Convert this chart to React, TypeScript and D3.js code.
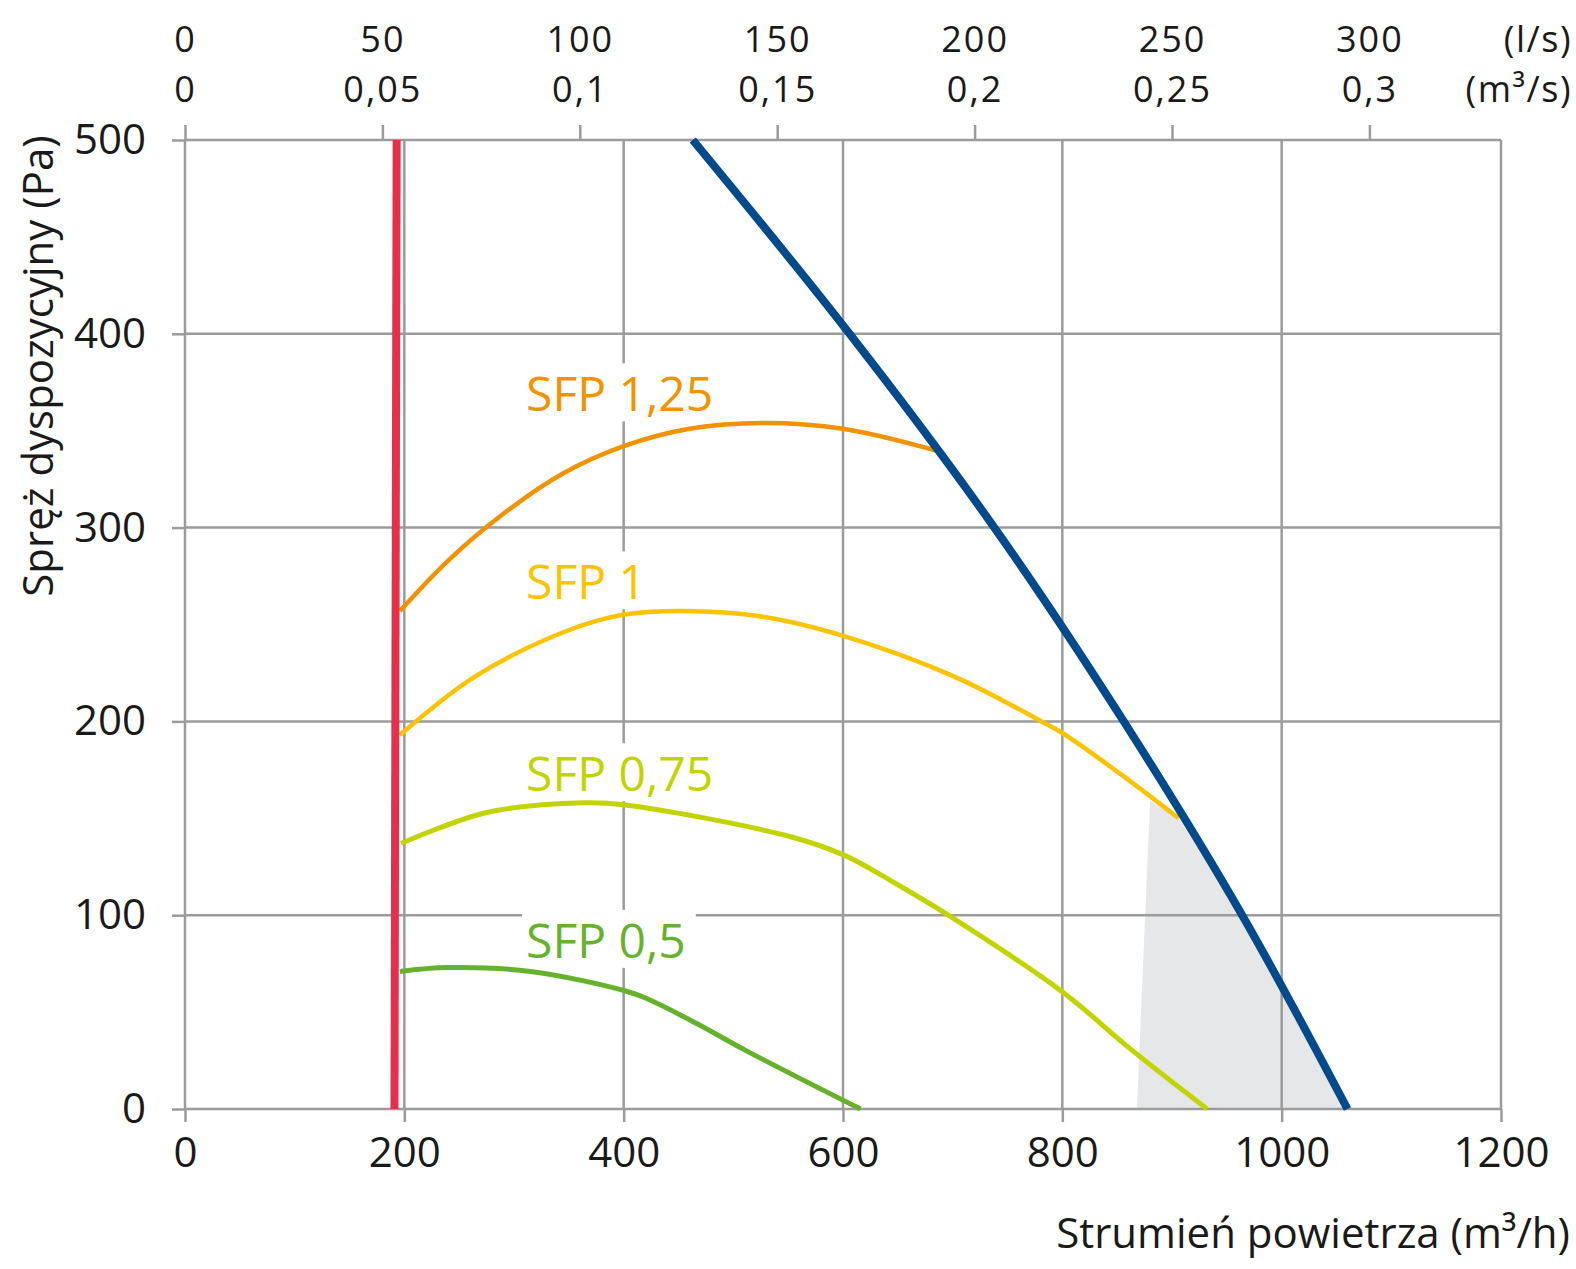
import * as d3 from "d3";
import { useRef, useEffect } from "react";

const width = 1576;
const height = 1269;

// axis ticks
const flowTicks = [0, 200, 400, 600, 800, 1000, 1200];
const pressureTicks = [0, 100, 200, 300, 400, 500];
const litreTicks = [0, 50, 100, 150, 200, 250, 300];
const cubicLabels = ["0", "0,05", "0,1", "0,15", "0,2", "0,25", "0,3"];

// curves as [flow m3/h, pressure Pa]
const minFlowLine = [[191, 0], [193, 500]];
const maxFlowLine = [[463, 500], [606, 400], [738, 300], [856, 200], [964, 100], [1060, 0]];
const sfp125 = [[196, 257], [240, 283], [290, 307], [345, 328], [400, 342], [460, 351], [527, 354], [600, 351], [690, 339]];
const sfp100 = [[196, 193], [264, 223], [345, 246], [399, 255], [454, 257], [527, 254], [601, 244], [702, 223], [781, 200], [800, 194], [855, 172], [906, 150]];
const sfp075 = [[197, 137], [275, 153], [363, 158], [400, 157], [549, 141], [601, 131], [646, 117], [696, 100], [801, 60], [862, 31], [932, 0]];
const sfp050 = [[196, 71], [239, 73], [315, 71], [401, 61], [421, 57], [467, 44], [512, 30], [616, 0]];
const shadedZone = [[868, 0], [880, 159], [906, 150], [964, 100], [1001, 61], [1060, 0]];

const sfpNames = ["SFP 1,25", "SFP 1", "SFP 0,75", "SFP 0,5"];
const sfpLabelAt = [[311, 360], [311, 263], [311, 164], [311, 78]];

const font = "'Open Sans', 'Noto Sans', sans-serif";
const gridColor = "#9b9b9b";
const textColor = "#1a1a1a";

const Chart = () => {
  const chartRef = useRef<SVGSVGElement>(null);

  const drawChart = () => {
    if (!chartRef.current) return;

    const x = d3.scaleLinear().domain([0, 1200]).range([185, 1501]);
    const y = d3.scaleLinear().domain([0, 500]).range([1109, 140]);
    const xLs = d3.scaleLinear().domain([0, 1200 / 3.6]).range([185, 1501]);

    const svg = d3.select(chartRef.current);
    svg.selectAll("*").remove();

    const line = d3.line<number[]>()
      .x((d) => x(d[0]))
      .y((d) => y(d[1]));

    // working range below the max curve
    svg.append("path")
      .attr("d", line.curve(d3.curveLinear)(shadedZone) + "Z")
      .attr("fill", "#e6e7e9");

    // grid
    const grid = svg.append("g").attr("stroke", gridColor).attr("stroke-width", 2.5);
    grid.selectAll("line.v")
      .data(flowTicks)
      .join("line")
      .attr("class", "v")
      .attr("x1", (d) => x(d)).attr("x2", (d) => x(d))
      .attr("y1", y(0)).attr("y2", y(500));
    grid.selectAll("line.h")
      .data(pressureTicks)
      .join("line")
      .attr("class", "h")
      .attr("x1", x(0)).attr("x2", x(1200))
      .attr("y1", (d) => y(d)).attr("y2", (d) => y(d));

    const styleAxis = (size, spacing = 0) => (g) => {
      g.attr("font-family", font).attr("font-size", size);
      g.select(".domain").remove();
      g.selectAll(".tick line").attr("stroke", gridColor).attr("stroke-width", 2.5);
      g.selectAll(".tick text").attr("fill", textColor).attr("letter-spacing", spacing);
    };

    svg.append("g")
      .attr("transform", `translate(${x(0)},0)`)
      .call(d3.axisLeft(y).tickValues(pressureTicks).tickSize(13).tickPadding(26).tickFormat(d3.format("d")))
      .call(styleAxis(42));

    svg.append("g")
      .attr("transform", `translate(0,${y(0)})`)
      .call(d3.axisBottom(x).tickValues(flowTicks).tickSize(13).tickPadding(15).tickFormat(d3.format("d")))
      .call(styleAxis(42));

    // top axis: m3/s row with tick marks, l/s row above it
    svg.append("g")
      .attr("transform", `translate(0,${y(500)})`)
      .call(d3.axisTop(xLs).tickValues(litreTicks).tickSize(15).tickPadding(23).tickFormat((d, i) => cubicLabels[i]))
      .call(styleAxis(36, 2));

    svg.append("g")
      .attr("transform", `translate(0,${y(500)})`)
      .call(d3.axisTop(xLs).tickValues(litreTicks).tickSize(0).tickPadding(88).tickFormat(d3.format("d")))
      .call(styleAxis(36, 2))
      .call((g) => g.selectAll(".tick line").remove());

    const units = svg.append("g")
      .attr("font-family", font).attr("font-size", 36).attr("fill", textColor)
      .attr("letter-spacing", 1.5)
      .attr("text-anchor", "end");
    units.append("text").attr("x", 1572).attr("y", 52).text("(l/s)");
    units.append("text").attr("x", 1572).attr("y", 102).text("(m³/s)");

    // axis titles
    svg.append("text")
      .attr("font-family", font).attr("font-size", 42).attr("fill", textColor)
      .attr("text-anchor", "end")
      .attr("x", 1570).attr("y", 1248)
      .text("Strumień powietrza (m³/h)");

    svg.append("text")
      .attr("font-family", font).attr("font-size", 42).attr("fill", textColor)
      .attr("text-anchor", "middle")
      .attr("transform", "translate(53,366) rotate(-90)")
      .text("Spręż dyspozycyjny (Pa)");

    // SFP curves
    const sfpSeries = [
      { values: sfp125, color: "#f39200", width: 4.5 },
      { values: sfp100, color: "#fdc300", width: 4.5 },
      { values: sfp075, color: "#c2d400", width: 5 },
      { values: sfp050, color: "#66b22e", width: 5 },
    ];

    const labels = svg.append("g").attr("font-family", font).attr("font-size", 48);
    sfpNames.forEach((name, i) => {
      const bg = labels.append("rect").attr("fill", "#fff");
      const t = labels.append("text")
        .attr("x", x(sfpLabelAt[i][0]))
        .attr("y", y(sfpLabelAt[i][1]))
        .attr("fill", sfpSeries[i].color)
        .text(name);
      const len = (t.node() as SVGTextElement).getComputedTextLength();
      bg.attr("x", x(sfpLabelAt[i][0]) - 4)
        .attr("y", y(sfpLabelAt[i][1]) - 48)
        .attr("width", len + 14)
        .attr("height", 58);
    });

    svg.append("g")
      .attr("fill", "none")
      .selectAll("path")
      .data(sfpSeries)
      .join("path")
      .attr("d", (d) => line.curve(d3.curveCatmullRom.alpha(0.5))(d.values))
      .attr("stroke", (d) => d.color)
      .attr("stroke-width", (d) => d.width);

    svg.append("path")
      .attr("d", line.curve(d3.curveCatmullRom.alpha(0.5))(maxFlowLine))
      .attr("fill", "none")
      .attr("stroke", "#024a8c")
      .attr("stroke-width", 8);

    svg.append("path")
      .attr("d", line.curve(d3.curveLinear)(minFlowLine))
      .attr("fill", "none")
      .attr("stroke", "#e5304c")
      .attr("stroke-width", 8);
  };

  useEffect(() => {
    drawChart();
  }, []);

  return (
    <svg
      ref={chartRef}
      width={width}
      height={height}
      style={{ position: "absolute", left: 0, top: 0, background: "#fff" }}
    />
  );
};

export default function App() {
  return <Chart />;
}
